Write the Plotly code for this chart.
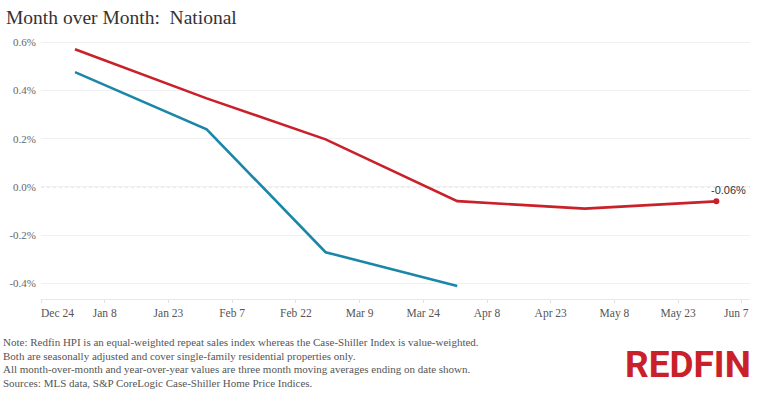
import plotly.graph_objects as go

dates = ["2025-01-01", "2025-02-01", "2025-03-01", "2025-04-01", "2025-05-01", "2025-06-01"]
redfin_hpi = [0.571, 0.367, 0.197, -0.059, -0.090, -0.06]
case_shiller = [0.476, 0.239, -0.271, -0.411]
tick_dates = ["2024-12-24", "2025-01-08", "2025-01-23", "2025-02-07", "2025-02-22", "2025-03-09",
              "2025-03-24", "2025-04-08", "2025-04-23", "2025-05-08", "2025-05-23", "2025-06-07"]
tick_labels = ["Dec 24", "Jan 8", "Jan 23", "Feb 7", "Feb 22", "Mar 9",
               "Mar 24", "Apr 8", "Apr 23", "May 8", "May 23", "Jun 7"]
y_ticks = [-0.4, -0.2, 0.0, 0.2, 0.4, 0.6]
y_labels = ["-0.4%", "-0.2%", "0.0%", "0.2%", "0.4%", "0.6%"]
title_text = "Month over Month:  National"
notes = [
    "Note: Redfin HPI is an equal-weighted repeat sales index whereas the Case-Shiller Index is value-weighted.",
    "Both are seasonally adjusted and cover single-family residential properties only.",
    "All month-over-month and year-over-year values are three month moving averages ending on date shown.",
    "Sources: MLS data, S&P CoreLogic Case-Shiller Home Price Indices.",
]

RED = "#c9202a"
BLUE = "#1b87a8"
SERIF = "Liberation Serif, Times New Roman, serif"

fig = go.Figure()
fig.add_trace(go.Scatter(x=dates[:len(case_shiller)], y=case_shiller, mode="lines",
                         line=dict(color=BLUE, width=2.6), name="Case-Shiller", hoverinfo="skip"))
fig.add_trace(go.Scatter(x=dates, y=redfin_hpi, mode="lines",
                         line=dict(color=RED, width=2.6), name="Redfin HPI", hoverinfo="skip"))
fig.add_trace(go.Scatter(x=[dates[-1]], y=[redfin_hpi[-1]], mode="markers",
                         marker=dict(color=RED, size=6), hoverinfo="skip"))

# zero line dotted
fig.add_shape(type="line", xref="paper", x0=0, x1=1, yref="y", y0=0, y1=0,
              line=dict(color="#c8c8c8", width=1, dash="dot"), layer="below")

fig.add_annotation(x=dates[-1], y=redfin_hpi[-1], text=f"{redfin_hpi[-1]:.2f}%",
                   showarrow=False, xanchor="center", yanchor="bottom", yshift=3, xshift=12,
                   font=dict(family="Liberation Sans, Arial, sans-serif", size=11, color="#333"))

# title
fig.add_annotation(x=0, xref="paper", xshift=-37, y=1, yref="paper", yshift=24, text=title_text,
                   showarrow=False, xanchor="left", yanchor="middle",
                   font=dict(family=SERIF, size=19.5, color="#333"))

# first/last tick labels aligned inside the plot
fig.add_annotation(x=tick_dates[0], y=0, xref="x", yref="paper", yshift=-6, text=tick_labels[0],
                   showarrow=False, xanchor="left", yanchor="top", xshift=-2,
                   font=dict(family=SERIF, size=11.5, color="#555"))
fig.add_annotation(x=1, y=0, xref="paper", yref="paper", yshift=-6, text=tick_labels[-1],
                   showarrow=False, xanchor="right", yanchor="top", xshift=1,
                   font=dict(family=SERIF, size=11.5, color="#555"))

for i, t in enumerate(notes):
    fig.add_annotation(x=0, xref="paper", xshift=-40, y=-0.166 - i * 0.0535, yref="paper",
                       text=t, showarrow=False, xanchor="left", yanchor="middle",
                       font=dict(family=SERIF, size=11, color="#555"))

fig.add_annotation(x=1, xref="paper", xshift=3, y=-0.252, yref="paper", text="<b>REDFIN</b>",
                   showarrow=False, xanchor="right", yanchor="middle",
                   font=dict(family="Liberation Sans Narrow, Roboto, sans-serif", size=37, color=RED))

fig.update_layout(
    width=771, height=399,
    margin=dict(l=41, r=21, t=41, b=100, autoexpand=False),
    paper_bgcolor="white", plot_bgcolor="white",
    showlegend=False,
    xaxis=dict(type="date", range=["2024-12-24", "2025-06-08 22:00"], automargin=False,
               tickvals=tick_dates, ticktext=[""] + tick_labels[1:-1] + [""],
               showgrid=False, zeroline=False, showline=True, linecolor="#e8e8e8", linewidth=1,
               ticks="outside", ticklen=3, tickcolor="#e0e0e0",
               tickfont=dict(family=SERIF, size=11.5, color="#555")),
    yaxis=dict(range=[-0.465, 0.605], tickvals=y_ticks, ticktext=y_labels, automargin=False,
               showgrid=True, gridcolor="#f0f0f0", gridwidth=1, zeroline=False,
               ticks="", tickfont=dict(family=SERIF, size=11, color="#666"), ticklabelstandoff=4),
)

fig.write_html("out.html", config={"displayModeBar": False},
               post_script="document.body.style.margin='0';document.body.style.overflow='hidden';")
